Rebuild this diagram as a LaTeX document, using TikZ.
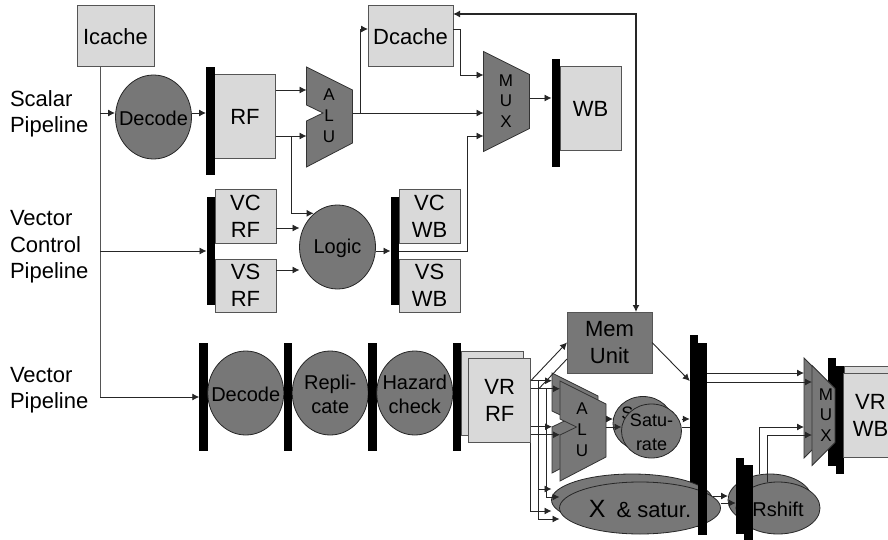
\documentclass[tikz,border=0pt]{standalone}
\usepackage{fontspec}
\setmainfont{Liberation Sans}
\usepackage{xcolor}
\usetikzlibrary{arrows.meta,calc,positioning,shapes.geometric}

\definecolor{lightfill}{HTML}{D9D9D9}
\definecolor{darkfill}{HTML}{777777}
\definecolor{boxline}{HTML}{555555}

\tikzset{
  every node/.style={inner sep=0pt, outer sep=0pt},
  boxtext/.style={align=center, font=\fontsize{22}{27}\selectfont},
  lightbox/.style={boxtext, rectangle, draw=boxline, fill=lightfill, line width=1pt},
  darkbox/.style={boxtext, rectangle, draw=boxline, fill=darkfill, line width=1pt},
  stagetext/.style={align=center, yshift=-1.5pt, font=\fontsize{20}{24}\selectfont},
  satutext/.style={align=center, yshift=-1.5pt, font=\fontsize{18}{24}\selectfont},
  stage/.style={ellipse, draw=black!85, fill=darkfill, line width=0.8pt,
    minimum width=76pt, minimum height=84pt, label={[stagetext]center:{#1}}},
  stage/.default={},
  satustage/.style={ellipse, draw=black!85, fill=darkfill, line width=0.8pt,
    minimum width=60pt, minimum height=54pt, label={[satutext]center:{#1}}},
  latch/.style={rectangle, fill=black, minimum width=8.5pt, minimum height=108pt},
  pipelabel/.style={anchor=west, align=left, font=\fontsize{22}{26.5}\selectfont},
  unitlabel/.style={align=center, font=\fontsize{17}{20.8}\selectfont},
  wire/.style={draw=black!85, line width=0.9pt, -{Latex[length=7pt,width=7pt]}},
  plainwire/.style={draw=black!85, line width=0.9pt},
  shapeline/.style={draw=black!80, fill=darkfill, line width=0.8pt},
  alushape/.pic={
    \draw[shapeline] (-23,-50) -- (23,-27) -- (23,26) -- (-23,50) -- (-23,4) -- (-6.5,-4) -- (-23,-12) -- cycle;
    \coordinate (-west) at (-23,0);
    \coordinate (-east) at (23,0);
  },
  muxshape/.pic={
    \draw[shapeline] (-23,-50) -- (23,-27) -- (23,27) -- (-23,50) -- cycle;
    \coordinate (-west) at (-23,0);
    \coordinate (-east) at (23,0);
  },
  muxslim/.pic={
    \draw[shapeline] (-11.5,-50) -- (11.5,-27) -- (11.5,27) -- (-11.5,50) -- cycle;
    \coordinate (-west) at (-11.5,0);
  },
}

\begin{document}
\begin{tikzpicture}[x=1pt, y=-1pt]
  \useasboundingbox (0,0) rectangle (888,540);

  % scalar pipeline
  \node[lightbox, minimum width=77pt, minimum height=61pt] (icache) at (115.5,36.5) {Icache};
  \node[stage=Decode] (decsc) at (153.5,117) {};
  \node[lightbox, minimum width=61pt, minimum height=84pt, right=23pt of decsc] (rf) {RF};
  \node[latch, left=0pt of rf, yshift=-4pt] (barrf) {};
  \pic (alusc) at (329.5,117) {alushape};
  \node[unitlabel] (alusctext) at (329,116) {A\\L\\U};
  \node[lightbox, minimum width=85pt, minimum height=61pt] (dcache) at (410.5,36.5) {Dcache};
  \pic (muxsc) at (506.5,101.5) {muxshape};
  \node[unitlabel] (muxsctext) at (506,101) {M\\U\\X};
  \node[lightbox, minimum width=61pt, minimum height=84pt] (wb) at (590.5,109) {WB};
  \node[latch, left=0pt of wb, yshift=-4pt] (barwb) {};

  % vector control pipeline
  \node[lightbox, minimum width=61pt, minimum height=53pt] (vcrf) at (245.5,216.5) {VC\\RF};
  \node[lightbox, minimum width=61pt, minimum height=53pt, below=16pt of vcrf] (vsrf) {VS\\RF};
  \node[latch, left=0pt of vcrf, yshift=-34.5pt] (barvc) {};
  \node[stage=Logic] (logic) at (337.5,247) {};
  \node[lightbox, minimum width=61pt, minimum height=53pt] (vcwb) at (429.5,216.5) {VC\\WB};
  \node[lightbox, minimum width=61pt, minimum height=53pt, below=16pt of vcwb] (vswb) {VS\\WB};
  \node[latch, left=0pt of vcwb, yshift=-34.5pt] (barcw) {};

  % vector pipeline
  \node[latch] (barv1) at (203.5,397) {};
  \node[stage=Decode, right=0pt of barv1, yshift=4pt] (decv) {};
  \node[latch, right=0pt of decv, yshift=-4pt] (barv2) {};
  \node[stage={Repli-\\cate}, right=8.5pt of decv] (repl) {};
  \node[latch, right=0pt of repl, yshift=-4pt] (barv3) {};
  \node[stage={Hazard\\check}, right=8.5pt of repl] (hazard) {};
  \node[latch, right=0pt of hazard, yshift=-4pt] (barv4) {};
  \node[lightbox, minimum width=62pt, minimum height=84pt, right=0pt of barv4, yshift=4pt] (vrrfb) {};
  \node[lightbox, minimum width=62pt, minimum height=84pt] (vrrf) at ([xshift=7.5pt,yshift=-7.5pt]vrrfb) {VR\\RF};

  % execute units
  \node[darkbox, minimum width=85pt, minimum height=61pt] (memunit) at (609.5,342.5) {Mem\\Unit};
  \pic (aluvb) at (575,423) {alushape};
  \pic (aluv) at (583,431) {alushape};
  \node[unitlabel] (aluvtext) at (582,430) {A\\L\\U};
  \node[satustage={Satu-\\rate}] (satub) at (643,423.5) {};
  \node[satustage={Satu-\\rate}] (satu) at ([xshift=8.5pt,yshift=-7.5pt]satub) {};
  \node[latch, minimum height=192pt] (barmemb) at (694,431) {};
  \node[stage, minimum width=161pt, minimum height=52pt] (xsatb) at (632,500) {};
  \node[stage={{\fontsize{25}{24}\selectfont X}\hspace{11pt}{\fontsize{22}{24}\selectfont\& satur.}}, minimum width=161pt, minimum height=52pt] (xsat) at ([xshift=8pt,yshift=-8pt]xsatb) {};
  \node[latch, minimum height=192pt] (barmem) at ([xshift=8.5pt,yshift=-8pt]barmemb) {};
  \node[stage, minimum width=84pt, minimum height=52pt] (rshiftb) at (770,500) {};
  \node[stage=Rshift, minimum width=84pt, minimum height=52pt] (rshift) at ([xshift=8pt,yshift=-8pt]rshiftb) {};
  \node[latch, minimum height=76.5pt] (barrsb) at (740,496) {};
  \node[latch, minimum height=76.5pt] (barrs) at ([xshift=8.5pt,yshift=-7.5pt]barrsb) {};

  % vector write back
  \pic (muxvb) at (815.5,408) {muxslim};
  \node[latch] (barmuxb) at (832,412) {};
  \pic (muxv) at (823.5,415.5) {muxslim};
  \node[unitlabel] (muxvtext) at (826,415) {M\\U\\X};
  \node[latch] (barmux) at (840,420) {};
  \node[lightbox, minimum width=54pt, minimum height=84pt] (vrwbb) at (871,408.5) {};
  \node[lightbox, minimum width=54pt, minimum height=84pt] (vrwb) at (870.5,415.5) {VR\\WB};

  % pipeline names
  \node[pipelabel] (scalarname) at (10,114) {Scalar\\Pipeline};
  \node[pipelabel] (controlname) at (10,247) {Vector\\Control\\Pipeline};
  \node[pipelabel] (vectorname) at (10,390) {Vector\\Pipeline};

  % fetch lines
  \coordinate (trunk) at ([xshift=-15.5pt]icache.south);
  \draw[plainwire, draw=boxline] (trunk) -- (trunk |- barv1);
  \draw[wire] (trunk |- barrf) ++(0,-8) -- ++(15,0);
  \draw[wire] (trunk |- barvc) -- (barvc.west);
  \draw[wire] (trunk |- barv1) -- (barv1.west);

  % scalar wires
  \draw[wire] ([yshift=4pt]decsc.east) -- ([yshift=4pt]decsc.east -| barrf.west);
  \draw[wire] ([yshift=27pt]rf.east) -- ([yshift=27pt]rf.east -| alusc-west);
  \draw[wire] ([yshift=-19pt]rf.east) -- ([yshift=-19pt]rf.east -| alusc-west);
  \draw[wire] ([xshift=16pt,yshift=-19pt]rf.east) |- ([xshift=3pt,yshift=4pt]logic.north west);
  \draw[wire] ([yshift=4pt]alusc-east) -- ([yshift=-11.5pt]muxsc-west);
  \draw[wire] ([xshift=8pt,yshift=4pt]alusc-east) |- ([yshift=7.5pt]dcache.west);
  \draw[wire] ([yshift=7.5pt]dcache.east) -- ++(7,0) |- ([yshift=26.5pt]muxsc-west);
  \draw[wire] ([yshift=3.5pt]muxsc-east) -- ([yshift=3.5pt]muxsc-east -| barwb.west);
  \draw[wire, line width=1.3pt, {Latex[length=7pt,width=7pt]}-{Latex[length=7pt,width=7pt]}] ([yshift=22.5pt]dcache.east) -| ([xshift=26.5pt]memunit.north);

  % vector control wires
  \draw[wire] ([yshift=-11.5pt]vcrf.east) -- ([yshift=-11.5pt]vcrf.east -| logic.west);
  \draw[wire] ([yshift=15.5pt]vsrf.east) -- ([yshift=15.5pt]vsrf.east -| logic.west);
  \draw[wire] ([yshift=-4pt]logic.east) -- ([yshift=-4pt]logic.east -| barcw.west);
  \draw[wire] (barcw.east) -- ++(68.5,0) |- ([yshift=-34.5pt]muxsc-west);

  % register file taps
  \coordinate (vrtap1) at ([yshift=19.75pt]vrrf.east);
  \coordinate (vrtap2) at ([yshift=11.75pt]vrrf.east);
  \coordinate (vrtap3) at ([yshift=-26.25pt]vrrf.east);
  \coordinate (vrtap4) at ([yshift=-34.25pt]vrrf.east);
  \draw[wire] (vrtap1) -- (vrtap1 -| aluvb-west);
  \draw[wire] (vrtap2) -- (vrtap2 -| aluv-west);
  \draw[wire] (vrtap3) -- (vrtap3 -| aluvb-west);
  \draw[wire] (vrtap4) -- (vrtap4 -| aluv-west);
  \draw[wire] (vrtap1) -- (memunit.west);
  \draw[plainwire] ([xshift=8pt]vrtap2) -- ([yshift=-16.5pt]memunit.west);
  \draw[wire] ([xshift=8pt]vrtap1) |- ([yshift=11pt]xsatb.west);
  \draw[wire] ([xshift=8pt]vrtap1) |- ([yshift=-11pt]xsat.west);
  \draw[wire] ([xshift=15.5pt]vrtap2) |- ([yshift=11pt]xsat.west);
  \draw[wire] (vrrf.south east) |- ([yshift=-11pt]xsatb.west);

  % execute wires
  \draw[wire] ([yshift=12pt]aluv-east) -- ([yshift=12pt]aluv-east -| satub.west);
  \draw[wire] ([yshift=4pt]aluv-east) -- ([yshift=4pt]aluv-east -| satu.west);
  \draw[wire] ([yshift=12pt]satu.east) -- ([yshift=12pt]satu.east -| barmemb.west);
  \draw[plainwire] ([yshift=4pt]satu.east) -- ([yshift=4pt]satu.east -| barmemb.west);
  \draw[wire] (memunit.east) -- ([yshift=50pt]barmemb.west);
  \draw[wire] ([yshift=4pt]xsatb.east) -- ([yshift=4pt]xsatb.east -| rshiftb.west);
  \draw[wire] ([yshift=5pt]xsat.east) -- ([yshift=5pt]xsat.east -| barrsb.west);

  % into the last mux
  \draw[wire] ([yshift=66pt]barmem.east) -- ([yshift=66pt]barmem.east -| muxvb-west);
  \draw[wire] ([yshift=57pt]barmem.east) -- ([yshift=57pt]barmem.east -| muxv-west);
  \draw[wire] ([xshift=-11pt]rshiftb.north) |- ([yshift=-19pt]muxvb-west);
  \draw[wire] ([xshift=-11pt]rshift.north) |- ([yshift=-19.5pt]muxv-west);

\end{tikzpicture}
\end{document}
